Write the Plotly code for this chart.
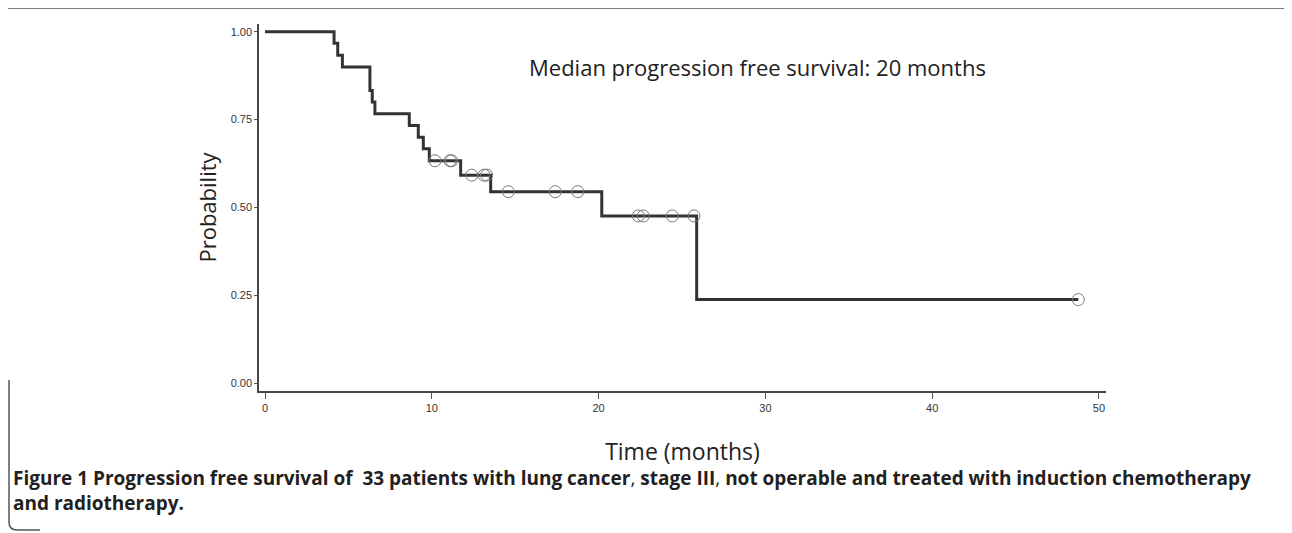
import plotly.graph_objects as go

# ---- data ----
event_times = [0, 4.14, 4.36, 4.64, 6.29, 6.43, 6.59, 8.65, 9.19, 9.49, 9.85,
               11.73, 13.53, 20.19, 25.88, 48.76]
survival = [1.0, 0.967, 0.933, 0.900, 0.833, 0.800, 0.767, 0.733, 0.700, 0.667,
            0.633, 0.592, 0.545, 0.476, 0.238, 0.238]
censor_times = [10.19, 11.09, 11.19, 12.39, 13.13, 13.29, 14.59, 17.40, 18.75,
                22.38, 22.68, 24.42, 25.72, 48.76]
censor_surv = [0.633, 0.633, 0.633, 0.592, 0.592, 0.592, 0.545, 0.545, 0.545,
               0.476, 0.476, 0.476, 0.476, 0.238]
y_ticks = [0, 0.25, 0.5, 0.75, 1.0]
y_tick_labels = ["0.00", "0.25", "0.50", "0.75", "1.00"]
x_ticks = [0, 10, 20, 30, 40, 50]

OFF = 8                      # default page body margin
PAGE_W, PAGE_H = 1292, 533
W, H = PAGE_W - OFF, PAGE_H - OFF
L, R, T, B = 259, 1106, 24, 391  # plot area in page pixels


def px(x):
    return (x - L) / (R - L)


def py(y):
    return (B - y) / (B - T)


fig = go.Figure()
fig.add_trace(go.Scatter(
    x=event_times, y=survival, mode="lines", line_shape="hv",
    line=dict(color="#333333", width=3), hoverinfo="skip", showlegend=False))
fig.add_trace(go.Scatter(
    x=censor_times, y=censor_surv, mode="markers",
    marker=dict(symbol="circle-open", size=12, color="#7a7a7a",
                line=dict(width=1, color="#7a7a7a")),
    showlegend=False))

tick_font = dict(family="Liberation Sans, Arial, sans-serif", size=11, color="#333333")
title_font = dict(family="Open Sans, sans-serif", size=23, color="#222222")

fig.update_xaxes(range=[-0.36, 50.42], tickvals=x_ticks, ticks="outside", ticklen=6,
                 tickcolor="#555555", tickwidth=1, showline=True, linecolor="#444444",
                 linewidth=1.5, showgrid=False, zeroline=False, tickfont=tick_font,
                 title=dict(text="Time (months)", font=title_font, standoff=31))
fig.update_yaxes(range=[-0.022, 1.022], tickvals=y_ticks, ticktext=y_tick_labels,
                 ticks="outside", ticklen=3, tickcolor="#555555", tickwidth=1,
                 showline=True, linecolor="#444444", linewidth=1.5, showgrid=False,
                 zeroline=False, tickfont=tick_font,
                 title=dict(text="Probability",
                            font=dict(family="Open Sans, sans-serif", size=22, color="#222222"),
                            standoff=8))

fig.add_annotation(text="Median progression free survival: 20 months",
                   xref="paper", yref="paper", x=px(757), y=py(67),
                   showarrow=False, xanchor="center", yanchor="middle",
                   font=dict(family="Open Sans, sans-serif", size=22, color="#222222"))

cap_font = dict(family="Open Sans, sans-serif", size=19, color="#231f20")
fig.add_annotation(
    text="<b>Figure 1</b> <b>Progression free survival of\u00a0 33 patients with lung cancer</b>, "
         "<b>stage III</b>, <b>not operable and treated with induction chemotherapy</b>",
    xref="paper", yref="paper", x=px(11), y=py(478), xanchor="left", yanchor="middle",
    showarrow=False, font=cap_font)
fig.add_annotation(
    text="<b>and radiotherapy.</b>",
    xref="paper", yref="paper", x=px(11), y=py(503), xanchor="left", yanchor="middle",
    showarrow=False, font=cap_font)

# border of the figure box
border_top = (f"M {px(8)},{py(8)} L {px(1282)},{py(8)} "
              f"Q {px(1290)},{py(8)} {px(1290)},{py(16)} L {px(1290)},{py(40)}")
border_left = (f"M {px(9)},{py(380)} L {px(9)},{py(522)} "
               f"Q {px(9)},{py(530)} {px(17)},{py(530)} L {px(40)},{py(530)}")
for p in (border_top, border_left):
    fig.add_shape(type="path", path=p, xref="paper", yref="paper",
                  line=dict(color="#555555", width=1.5))

fig.update_layout(width=W, height=H,
                  margin=dict(l=L - OFF, r=PAGE_W - R, t=T - OFF, b=PAGE_H - B),
                  plot_bgcolor="white", paper_bgcolor="white", showlegend=False)

fig.write_html("out.html")
